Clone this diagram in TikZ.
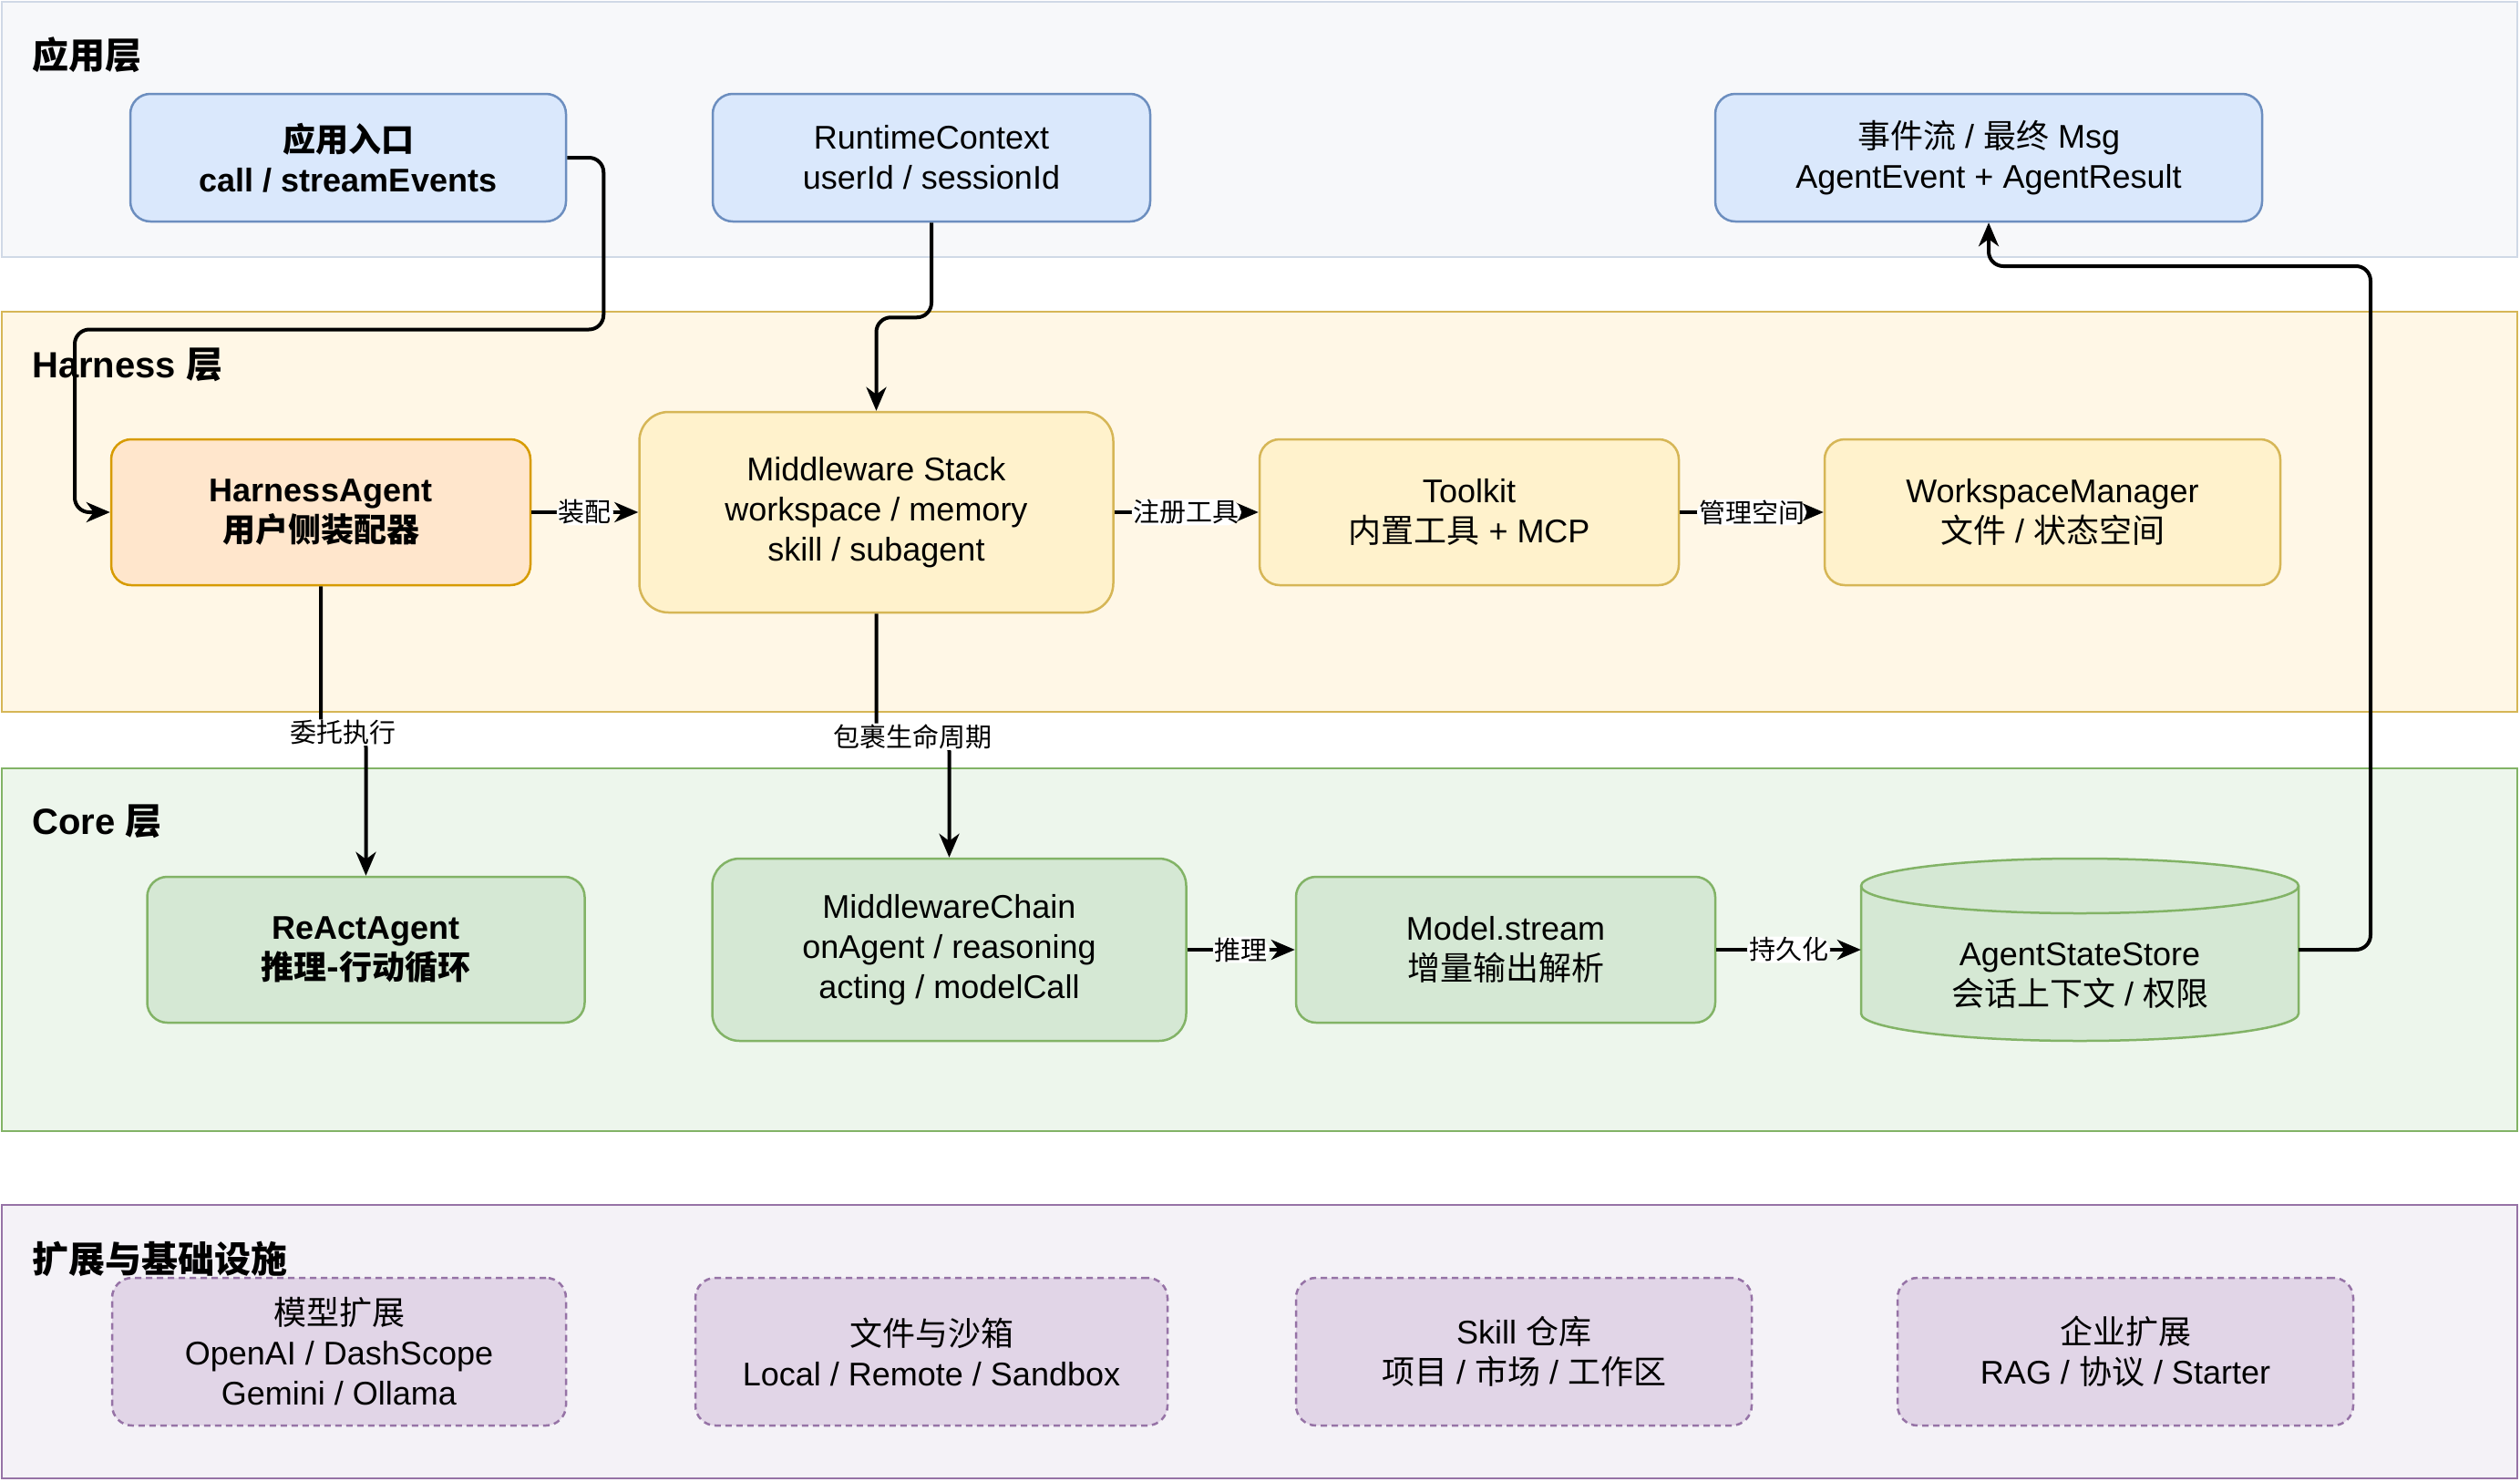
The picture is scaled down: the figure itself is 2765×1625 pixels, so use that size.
\documentclass[tikz,border=0pt]{standalone}
\usepackage{fontspec}
\setmainfont{Liberation Sans}
\newfontfamily\cjkfont{Noto Sans CJK SC}
\usepackage{tikz}
\usetikzlibrary{positioning,arrows.meta}

\newcommand{\hz}[1]{{\cjkfont #1}}
\newcommand{\boxfont}{\fontsize{36}{44}\selectfont}
\newcommand{\titlefont}{\fontsize{40}{48}\selectfont\bfseries}
\newcommand{\lblfont}{\fontsize{29}{34}\selectfont}

\definecolor{appfill}{HTML}{F7F8FA}
\definecolor{appline}{HTML}{D0D9E6}
\definecolor{blufill}{HTML}{DAE8FC}
\definecolor{bluline}{HTML}{6C8EBF}
\definecolor{harfill}{HTML}{FFF7E6}
\definecolor{yelfill}{HTML}{FFF2CC}
\definecolor{yelline}{HTML}{D6B656}
\definecolor{orafill}{HTML}{FFE6CC}
\definecolor{oraline}{HTML}{D79B00}
\definecolor{corefill}{HTML}{EDF6EC}
\definecolor{grnfill}{HTML}{D5E8D4}
\definecolor{grnline}{HTML}{82B366}
\definecolor{extfill}{HTML}{F4F2F7}
\definecolor{purfill}{HTML}{E1D5E7}
\definecolor{purline}{HTML}{9673A6}

\begin{document}
\begin{tikzpicture}[
    x=1pt, y=-1pt,
    band/.style={draw, line width=2.5pt},
    layertitle/.style={anchor=west, inner sep=0pt, font=\titlefont},
    box/.style={rectangle, draw, line width=2.5pt, rounded corners=22pt, align=center, inner sep=0pt, font=\boxfont},
    appbox/.style={box, fill=blufill, draw=bluline, minimum height=140pt},
    harnbox/.style={box, fill=yelfill, draw=yelline, minimum height=160pt},
    corebox/.style={box, fill=grnfill, draw=grnline, minimum height=160pt},
    extbox/.style={box, fill=purfill, draw=purline, minimum height=162pt, dash pattern=on 7pt off 5pt},
    flow/.style={draw, line width=4pt, rounded corners=16pt, -{Stealth[length=26pt, width=22pt, inset=8pt]}},
    lbl/.style={fill=white, inner xsep=2pt, inner ysep=1pt, font=\lblfont}
]
    \useasboundingbox (0,0) rectangle (2765,1625);

    % layers
    \path[band, fill=appfill, draw=appline] (2,2) rectangle (2762,282);
    \path[band, fill=harfill, draw=yelline] (2,342) rectangle (2762,781);
    \path[band, fill=corefill, draw=grnline] (2,843) rectangle (2762,1241);
    \path[band, fill=extfill, draw=purline] (2,1322) rectangle (2762,1622);

    \node[layertitle] (tapp) at (35,60) {\hz{应用层}};
    \node[layertitle] (tharn) at (35,400) {Harness \hz{层}};
    \node[layertitle] (tcore) at (35,901) {Core \hz{层}};
    \node[layertitle] (text) at (35,1381) {\hz{扩展与基础设施}};

    % application layer
    \node[appbox, minimum width=478pt, font=\boxfont\bfseries] (entry) at (382,173) {\hz{应用入口}\\call / streamEvents};
    \node[appbox, minimum width=480pt] (rtctx) at (1022,173) {RuntimeContext\\userId / sessionId};
    \node[appbox, minimum width=600pt] (result) at (2182,173) {\hz{事件流} / \hz{最终} Msg\\AgentEvent + AgentResult};

    % harness layer
    \node[harnbox, fill=orafill, draw=oraline, minimum width=460pt, font=\boxfont\bfseries] (harness) at (352,562) {HarnessAgent\\\hz{用户侧装配器}};
    \node[harnbox, minimum width=520pt, minimum height=220pt, rounded corners=32pt] (mwstack) at (961.5,562) {Middleware Stack\\workspace / memory\\skill / subagent};
    \node[harnbox, minimum width=460pt] (toolkit) at (1612,562) {Toolkit\\\hz{内置工具} + MCP};
    \node[harnbox, minimum width=500pt] (wsmgr) at (2252,562) {WorkspaceManager\\\hz{文件} / \hz{状态空间}};

    % core layer
    \node[corebox, minimum width=480pt, font=\boxfont\bfseries] (react) at (401.5,1042) {ReActAgent\\\hz{推理-行动循环}};
    \node[corebox, minimum width=520pt, minimum height=200pt, rounded corners=30pt] (mwchain) at (1041.5,1042) {MiddlewareChain\\onAgent / reasoning\\acting / modelCall};
    \node[corebox, minimum width=460pt] (model) at (1652,1042) {Model.stream\\\hz{增量输出解析}};
    \node[minimum width=480pt, minimum height=200pt, inner sep=0pt] (store) at (2282,1042) {};
    \filldraw[fill=grnfill, draw=grnline, line width=2.5pt] (2042,972) -- (2042,1112)
        arc[start angle=180, end angle=360, x radius=240pt, y radius=30pt] -- (2522,972)
        arc[start angle=0, end angle=180, x radius=240pt, y radius=30pt] -- cycle;
    \draw[grnline, line width=2.5pt] (2042,972) arc[start angle=180, end angle=360, x radius=240pt, y radius=30pt];
    \node[font=\boxfont, align=center] (storetext) at (2282,1070) {AgentStateStore\\\hz{会话上下文} / \hz{权限}};

    % extensions
    \node[extbox, minimum width=498pt] (ext1) at (372,1483) {\hz{模型扩展}\\OpenAI / DashScope\\Gemini / Ollama};
    \node[extbox, minimum width=518pt] (ext2) at (1022,1483) {\hz{文件与沙箱}\\Local / Remote / Sandbox};
    \node[extbox, minimum width=500pt] (ext3) at (1672,1483) {Skill \hz{仓库}\\\hz{项目} / \hz{市场} / \hz{工作区}};
    \node[extbox, minimum width=500pt] (ext4) at (2332,1483) {\hz{企业扩展}\\RAG / \hz{协议} / Starter};

    % connectors
    \draw[flow] (entry.east) -- ++(40,0) |- (82,361.5) |- (harness.west);
    \draw[flow] (rtctx.south) -- ++(0,104) -| (mwstack.north);
    \draw[flow] (harness) -- (mwstack) node[lbl, midway] {\hz{装配}};
    \draw[flow] (mwstack) -- (toolkit) node[lbl, midway] {\hz{注册工具}};
    \draw[flow] (toolkit) -- (wsmgr) node[lbl, midway] {\hz{管理空间}};
    \draw[flow] (harness.south) -- ++(0,160.5) -| node[lbl, pos=0.25] {\hz{委托执行}} (react.north);
    \draw[flow] (mwstack.south) -- ++(0,135) -| node[lbl, pos=0.25] {\hz{包裹生命周期}} (mwchain.north);
    \draw[flow] (mwchain) -- (model) node[lbl, midway] {\hz{推理}};
    \draw[flow] (model) -- (store) node[lbl, midway] {\hz{持久化}};
    \draw[flow] (store.east) -| (2601,292) -| (result.south);
\end{tikzpicture}
\end{document}
